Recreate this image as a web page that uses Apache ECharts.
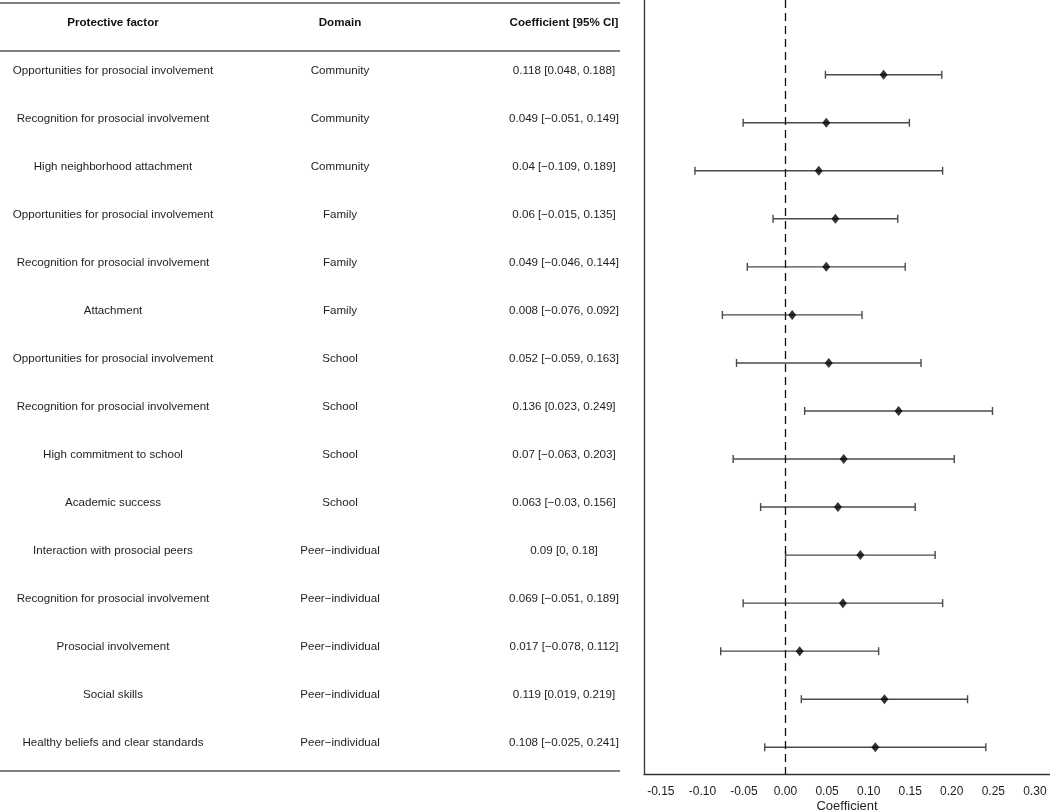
<!DOCTYPE html>
<html><head><meta charset="utf-8">
<script src="https://cdn.jsdelivr.net/npm/echarts@6/dist/echarts.min.js"></script>
<style>html,body{margin:0;padding:0;background:#fff}#c{width:1050px;height:812px}</style>
</head><body><div id="c"></div>
<script>
// ---- data ----
const factors = [
  'Opportunities for prosocial involvement',
  'Recognition for prosocial involvement',
  'High neighborhood attachment',
  'Opportunities for prosocial involvement',
  'Recognition for prosocial involvement',
  'Attachment',
  'Opportunities for prosocial involvement',
  'Recognition for prosocial involvement',
  'High commitment to school',
  'Academic success',
  'Interaction with prosocial peers',
  'Recognition for prosocial involvement',
  'Prosocial involvement',
  'Social skills',
  'Healthy beliefs and clear standards'
];
const domains = [
  'Community','Community','Community',
  'Family','Family','Family',
  'School','School','School','School',
  'Peer\u2212individual','Peer\u2212individual','Peer\u2212individual','Peer\u2212individual','Peer\u2212individual'
];
const estimates = [0.118, 0.049, 0.04, 0.06, 0.049, 0.008, 0.052, 0.136, 0.07, 0.063, 0.09, 0.069, 0.017, 0.119, 0.108];
const lower     = [0.048, -0.051, -0.109, -0.015, -0.046, -0.076, -0.059, 0.023, -0.063, -0.03, 0, -0.051, -0.078, 0.019, -0.025];
const upper     = [0.188, 0.149, 0.189, 0.135, 0.144, 0.092, 0.163, 0.249, 0.203, 0.156, 0.18, 0.189, 0.112, 0.219, 0.241];
const tickValues = [-0.15, -0.10, -0.05, 0.00, 0.05, 0.10, 0.15, 0.20, 0.25, 0.30];
const headers = ['Protective factor', 'Domain', 'Coefficient [95% CI]'];
const axisTitle = 'Coefficient';

// ---- layout / style ----
const FONT = '"Liberation Sans", Arial, sans-serif';
const TXT = '#1e1e1e';
const colX = [113, 340, 564];
const yMin = -1.555, yMax = 14.557;

const fmt = v => String(v).replace('-', '\u2212');
const ciText = estimates.map((e, i) => `${fmt(e)} [${fmt(lower[i])}, ${fmt(upper[i])}]`);

const rowIdx = estimates.map((_, i) => i);
const tableData = rowIdx.map(i => [i]);
const barData = rowIdx.map(i => [lower[i], upper[i], i]);
const pointData = rowIdx.map(i => [estimates[i], i]);

const chart = echarts.init(document.getElementById('c'), null, {renderer: 'canvas'});

const ruleStyle = {stroke: '#555', lineWidth: 1.6};
const option = {
  animation: false,
  backgroundColor: '#fff',
  textStyle: {fontFamily: FONT},
  grid: [
    {left: 644, right: 0, top: 0, bottom: 38, containLabel: false, outerBoundsMode: 'none'},
    {left: 0, width: 620, top: 0, bottom: 38, containLabel: false, outerBoundsMode: 'none'}
  ],
  xAxis: [
    {
      type: 'value', gridIndex: 0, min: -0.1703, max: 0.3182,
      axisLine: {show: true, onZero: false, lineStyle: {color: '#333', width: 1.3}},
      axisTick: {show: false},
      splitLine: {show: false},
      axisLabel: {
        customValues: tickValues,
        formatter: v => v.toFixed(2),
        fontSize: 12, color: TXT, margin: 12, fontFamily: FONT
      },
      name: axisTitle, nameLocation: 'middle', nameGap: 26, nameMoveOverlap: false,
      nameTextStyle: {fontSize: 13, color: TXT, fontFamily: FONT}
    },
    {type: 'value', gridIndex: 1, min: 0, max: 620, show: false}
  ],
  yAxis: [
    {
      type: 'value', gridIndex: 0, min: yMin, max: yMax, inverse: true,
      axisLine: {show: true, onZero: false, lineStyle: {color: '#333', width: 1.3}},
      axisTick: {show: false}, axisLabel: {show: false}, splitLine: {show: false}
    },
    {type: 'value', gridIndex: 1, min: yMin, max: yMax, inverse: true, show: false}
  ],
  graphic: [
    {type: 'line', shape: {x1: 0, y1: 3, x2: 620, y2: 3}, style: ruleStyle},
    {type: 'line', shape: {x1: 0, y1: 51, x2: 620, y2: 51}, style: ruleStyle},
    {type: 'line', shape: {x1: 0, y1: 771, x2: 620, y2: 771}, style: ruleStyle},
    ...headers.map((h, k) => ({
      type: 'text', x: colX[k], y: 22.5,
      style: {text: h, fill: '#111', font: `bold 11.6px ${FONT}`, align: 'center', verticalAlign: 'middle'}
    }))
  ],
  series: [
    {
      type: 'custom', xAxisIndex: 1, yAxisIndex: 1, data: tableData, silent: true,
      renderItem: (params, api) => {
        const i = api.value(0);
        const texts = [factors[i], domains[i], ciText[i]];
        return {
          type: 'group',
          children: texts.map((t, k) => {
            const p = api.coord([colX[k], i]);
            return {
              type: 'text', x: p[0], y: p[1] - 4,
              style: {text: t, fill: TXT, font: `11.6px ${FONT}`, align: 'center', verticalAlign: 'middle'}
            };
          })
        };
      }
    },
    {
      type: 'custom', xAxisIndex: 0, yAxisIndex: 0, data: barData, silent: true,
      renderItem: (params, api) => {
        const a = api.coord([api.value(0), api.value(2)]);
        const b = api.coord([api.value(1), api.value(2)]);
        const st = {stroke: '#4a4a4a', lineWidth: 1.4};
        return {
          type: 'group',
          children: [
            {type: 'line', shape: {x1: a[0], y1: a[1], x2: b[0], y2: b[1]}, style: st},
            {type: 'line', shape: {x1: a[0], y1: a[1] - 4, x2: a[0], y2: a[1] + 4}, style: st},
            {type: 'line', shape: {x1: b[0], y1: b[1] - 4, x2: b[0], y2: b[1] + 4}, style: st}
          ]
        };
      }
    },
    {
      type: 'scatter', xAxisIndex: 0, yAxisIndex: 0, data: pointData,
      symbol: 'diamond', symbolSize: [8, 10], itemStyle: {color: '#000'}, z: 5, silent: true,
      markLine: {
        silent: true, symbol: 'none', label: {show: false},
        lineStyle: {color: '#111', width: 1.3, type: [8, 5]},
        data: [{xAxis: 0}]
      }
    }
  ]
};
chart.setOption(option);
</script>
</body></html>
